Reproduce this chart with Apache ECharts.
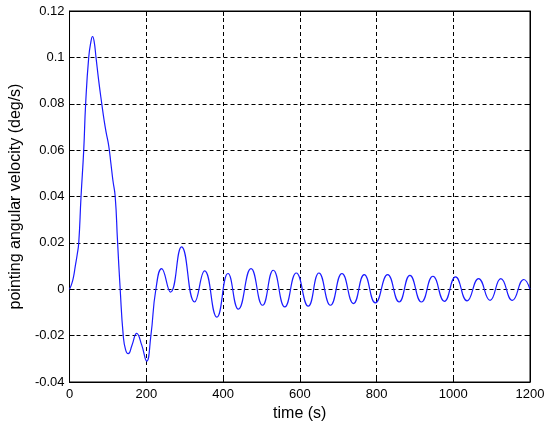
<!DOCTYPE html>
<html>
<head>
<meta charset="utf-8">
<title>pointing angular velocity</title>
<script src="https://cdn.jsdelivr.net/npm/echarts@6/dist/echarts.min.js"></script>
<style>
  html, body { margin: 0; padding: 0; background: #fff; }
  #chart { width: 550px; height: 431px; }
</style>
</head>
<body>
<div id="chart"></div>
<script>
// time samples (s), mostly at peaks and troughs
const times = [
    0, 5, 10, 15, 20, 24, 30, 37, 42, 50, 56, 60, 64, 69, 76, 84, 90, 95, 102, 108,
    113, 119, 125, 132, 140, 146, 153, 163, 175, 188, 201, 212, 225, 240, 263, 292,
    326, 352, 384, 413, 440, 473, 503, 531, 561, 591, 622, 650, 680, 710, 740, 768,
    797, 829, 859, 887, 917, 947, 977, 1006, 1036, 1066, 1096, 1124, 1154, 1184, 1200
];
// angular velocity (deg/s)
const velocity = [
    0, 0.002, 0.005, 0.01, 0.015, 0.02, 0.04, 0.06, 0.08, 0.1, 0.107, 0.109, 0.107, 0.1, 0.09, 0.08, 0.073, 0.068, 0.062, 0.054,
    0.047, 0.04, 0.021, 0, -0.02, -0.026, -0.0278, -0.024, -0.019, -0.024, -0.031, -0.02, 0, 0.0089, -0.0012, 0.0183,
    -0.0055, 0.0079, -0.012, 0.0068, -0.0086, 0.0089, -0.0069, 0.0082, -0.0076, 0.007, -0.0073, 0.007, -0.0069, 0.0068, -0.0062, 0.0063,
    -0.0059, 0.0063, -0.0055, 0.006, -0.0055, 0.0056, -0.0052, 0.0053, -0.005, 0.0046, -0.0048, 0.0046, -0.0048, 0.0042, 0
];
const xTicks = [0, 200, 400, 600, 800, 1000, 1200];
const yTicks = ['-0.04', '-0.02', '0', '0.02', '0.04', '0.06', '0.08', '0.1', '0.12'];

const chart = echarts.init(document.getElementById('chart'), null, { renderer: 'canvas' });

const font = 'Liberation Sans, Arial, sans-serif';
const gridLine = { show: true, lineStyle: { color: '#000', width: 1, type: [4, 3] } };
const frameLine = { show: true, onZero: false, lineStyle: { color: '#000', width: 1 } };
const innerTick = { show: true, inside: true, length: 5, lineStyle: { color: '#000' } };

function yLabel(v) {
    const s = yTicks.find(t => Math.abs(parseFloat(t) - v) < 1e-9);
    return s !== undefined ? s : '';
}

const options = {
    animation: false,
    backgroundColor: '#fff',
    grid: { left: 66, right: 20, top: 11, bottom: 49, show: true, borderColor: '#000', borderWidth: 1 },
    xAxis: [
        {
            type: 'value', min: xTicks[0], max: xTicks[xTicks.length - 1], interval: 200,
            name: 'time (s)', nameLocation: 'middle', nameGap: 21,
            nameTextStyle: { fontFamily: font, fontSize: 16, color: '#000' },
            axisLine: frameLine,
            axisTick: innerTick,
            axisLabel: { fontFamily: font, fontSize: 13, color: '#000', margin: 6, formatter: v => String(v) },
            splitLine: gridLine
        },
        {
            type: 'value', position: 'top', min: xTicks[0], max: xTicks[xTicks.length - 1], interval: 200,
            axisLine: frameLine,
            axisTick: innerTick,
            axisLabel: { show: false }, splitLine: { show: false }
        }
    ],
    yAxis: [
        {
            type: 'value', min: -0.04, max: 0.12, interval: 0.02,
            name: 'pointing angular velocity (deg/s)', nameLocation: 'middle', nameGap: 42,
            nameTextStyle: { fontFamily: font, fontSize: 16, color: '#000' },
            axisLine: frameLine,
            axisTick: innerTick,
            axisLabel: { fontFamily: font, fontSize: 13, color: '#000', margin: 5, formatter: yLabel },
            splitLine: gridLine
        },
        {
            type: 'value', position: 'right', min: -0.04, max: 0.12, interval: 0.02,
            axisLine: frameLine,
            axisTick: innerTick,
            axisLabel: { show: false }, splitLine: { show: false }
        }
    ],
    series: [{
        type: 'line',
        data: times.map((t, i) => [t, velocity[i]]),
        smooth: 0.5,
        symbol: 'none',
        lineStyle: { color: '#1a1aff', width: 1.2 },
        clip: true
    }]
};

chart.setOption(options);
window.addEventListener('resize', () => chart.resize());
</script>
</body>
</html>
